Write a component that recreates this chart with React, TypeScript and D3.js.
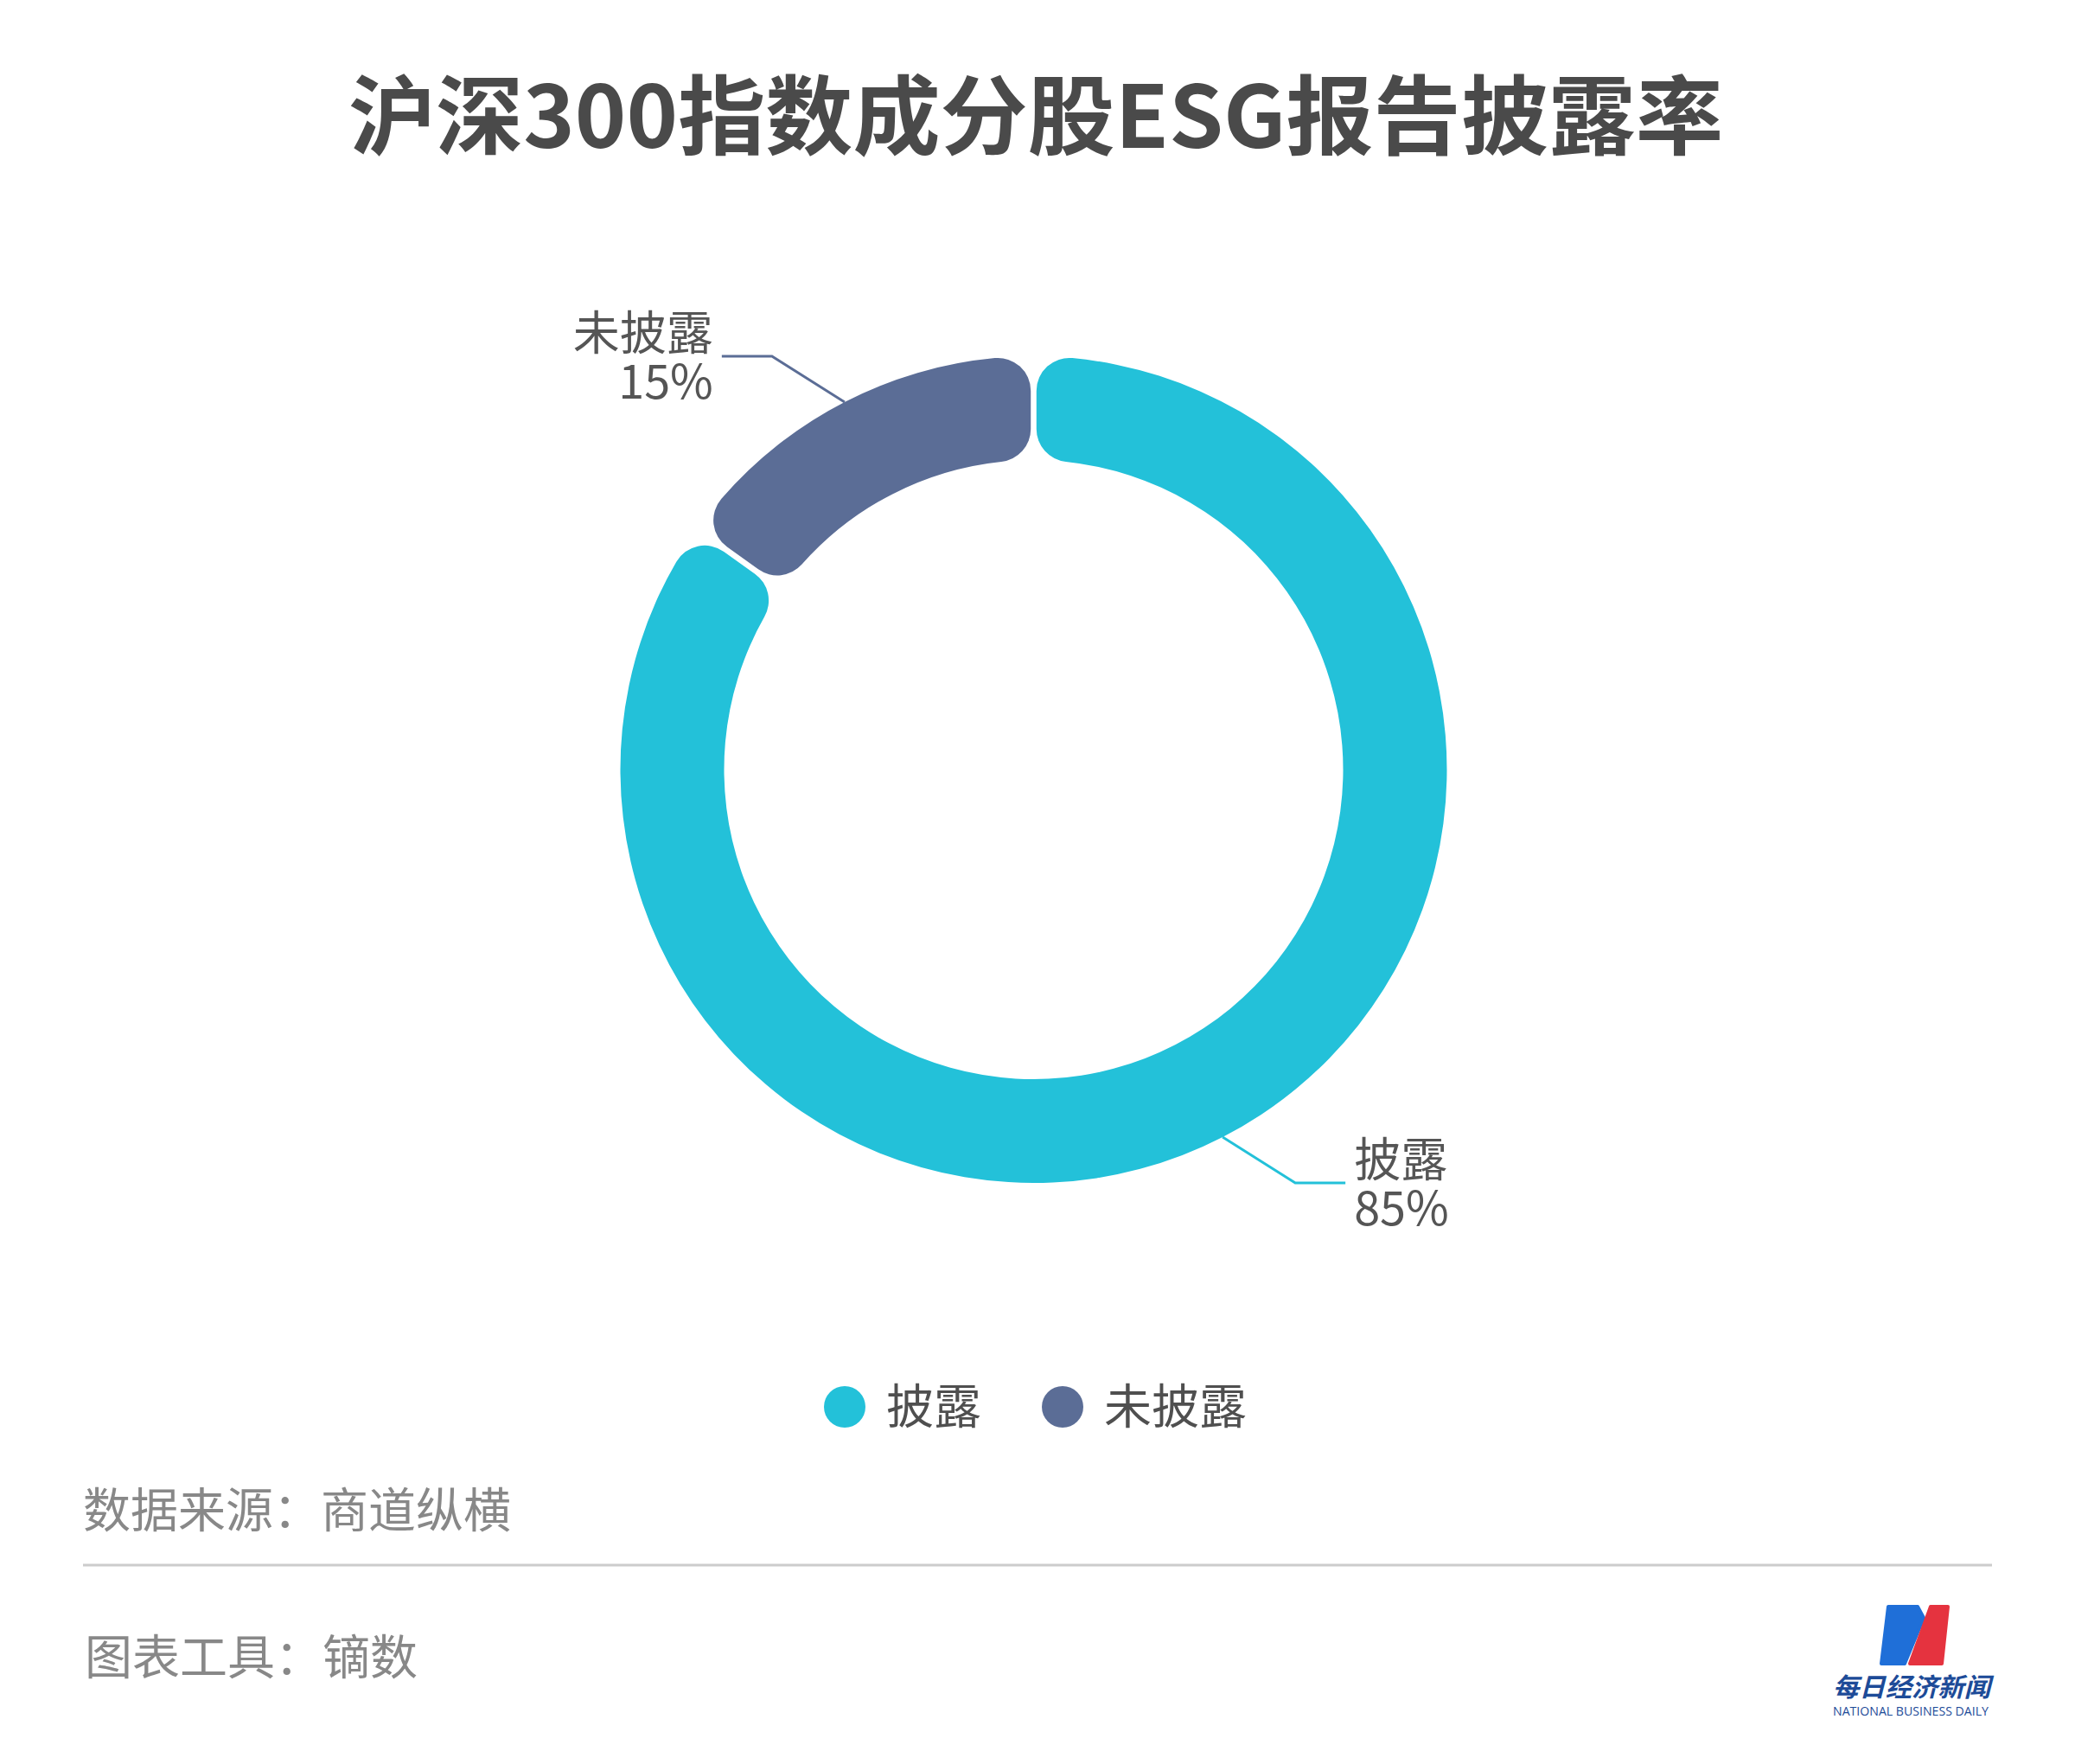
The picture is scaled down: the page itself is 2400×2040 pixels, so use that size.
import React from "react";
import * as d3 from "d3";

const TITLE = "沪深300指数成分股ESG报告披露率";
const categories = ["披露", "未披露"];
const values = [85, 15];
const colors = ["#23c1d9", "#5b6d96"];
const SOURCE = "数据来源：商道纵横";
const TOOL = "图表工具：镝数";

const W = 2400;
const H = 2040;
const CX = 1195.5;
const CY = 890;
const R_OUT = 478;
const R_IN = 358;
const FONT = "'Noto Sans CJK SC', 'Noto Sans', sans-serif";

export default function App() {
  const data = categories.map((c, i) => ({ name: c, value: values[i], color: colors[i] }));
  const pie = d3
    .pie<any>()
    .value((d) => d.value)
    .sort(null)
    .startAngle(0)
    .endAngle(2 * Math.PI)
    .padAngle(0.011);
  const arcs = pie(data);
  const arc = d3.arc<any>().innerRadius(R_IN).outerRadius(R_OUT).cornerRadius(38);

  // legend layout
  const legR = 24;
  const legGap = 26;
  const legFont = 55;
  const itemGap = 70;
  const itemWidths = data.map((d) => legR * 2 + legGap + d.name.length * 54);
  const legTotal = itemWidths.reduce((a, b) => a + b, 0) + itemGap * (data.length - 1);
  let lx = 1197 - legTotal / 2;
  const legendItems = data.map((d, i) => {
    const x = lx;
    lx += itemWidths[i] + itemGap;
    return { ...d, x };
  });

  return (
    <svg
      width={W}
      height={H}
      viewBox={`0 0 ${W} ${H}`}
      style={{ position: "absolute", left: 0, top: 0, background: "#fff" }}
      fontFamily={FONT}
    >
      <rect width={W} height={H} fill="#fff" />
      <text
        x={1198}
        y={171}
        textAnchor="middle"
        fontSize={100}
        fontWeight={700}
        fill="#4a4a4a"
        textLength={1590}
        lengthAdjust="spacingAndGlyphs"
      >
        {TITLE}
      </text>

      <g transform={`translate(${CX},${CY})`}>
        {arcs.map((a, i) => (
          <path key={i} d={arc(a) as string} fill={a.data.color} />
        ))}
        {arcs.map((a, i) => {
          const mid = (a.startAngle + a.endAngle) / 2;
          const sx = Math.sin(mid);
          const sy = -Math.cos(mid);
          const p1 = [sx * R_OUT, sy * R_OUT];
          const dirX = sx >= 0 ? 1 : -1;
          const dirY = sy >= 0 ? 1 : -1;
          const p2 = [p1[0] + dirX * 84, p1[1] + dirY * 53];
          const p3 = [p2[0] + dirX * 58, p2[1]];
          const tx = p3[0] + dirX * 10;
          const anchor = dirX > 0 ? "start" : "end";
          return (
            <g key={"l" + i}>
              <polyline
                points={[p1, p2, p3].map((p) => p.join(",")).join(" ")}
                fill="none"
                stroke={a.data.color}
                strokeWidth={3}
              />
              <text x={tx} y={p3[1] - 7} textAnchor={anchor} fontSize={54} fill="#555">
                {a.data.name}
              </text>
              <text x={tx} y={p3[1] + 49} textAnchor={anchor} fontSize={54} fill="#555">
                {`${a.data.value}%`}
              </text>
            </g>
          );
        })}
      </g>

      <g>
        {legendItems.map((d, i) => (
          <g key={i}>
            <circle cx={d.x + legR} cy={1627} r={legR} fill={d.color} />
            <text x={d.x + legR * 2 + legGap - 2} y={1646} fontSize={legFont} fill="#4f4f4f">
              {d.name}
            </text>
          </g>
        ))}
      </g>

      <text x={96} y={1766} fontSize={55} fill="#888">
        {SOURCE}
      </text>
      <line x1={96} x2={2304} y1={1810} y2={1810} stroke="#cccccc" strokeWidth={3} />
      <text x={98} y={1936} fontSize={55} fill="#888">
        {TOOL}
      </text>

      <g>
        <path
          d="M2184,1858 L2218,1858 L2225,1871 L2203,1924 L2176,1924 Z"
          fill="#1f6fd8"
          stroke="#1f6fd8"
          strokeWidth={4}
          strokeLinejoin="round"
        />
        <path
          d="M2233,1858 L2253,1858 L2246,1924 L2209,1924 Z"
          fill="#e5333f"
          stroke="#e5333f"
          strokeWidth={4}
          strokeLinejoin="round"
        />
        <text
          x={2120}
          y={1962}
          fontSize={30}
          fontWeight={700}
          fontStyle="italic"
          fill="#1d4b98"
          textLength={182}
          lengthAdjust="spacingAndGlyphs"
        >
          每日经济新闻
        </text>
        <text
          x={2120}
          y={1984}
          fontSize={14}
          fill="#1d4b98"
          fontFamily="'Open Sans', sans-serif"
          textLength={180}
          lengthAdjust="spacingAndGlyphs"
        >
          NATIONAL BUSINESS DAILY
        </text>
      </g>
    </svg>
  );
}
